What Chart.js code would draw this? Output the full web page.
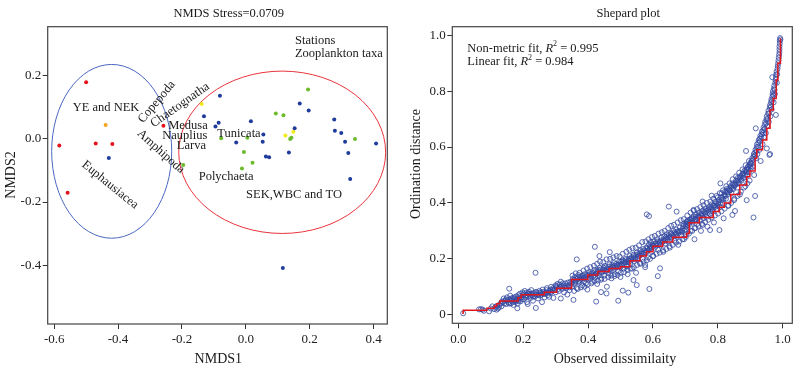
<!DOCTYPE html>
<html><head><meta charset="utf-8">
<script src="https://cdn.jsdelivr.net/npm/chart.js@4.4.0/dist/chart.umd.min.js"></script>
<style>
html,body{margin:0;padding:0;background:#fff;}
#wrap{position:relative;width:807px;height:372px;overflow:hidden;background:#fff;}
#c1{position:absolute;left:0;top:0;}
#c2{position:absolute;left:400px;top:0;}
</style></head><body>
<div id="wrap"><canvas id="c1" width="400" height="372"></canvas><canvas id="c2" width="407" height="372"></canvas></div>
<script>
// ---------------- DATA: NMDS panel ----------------
const nmdsXTicks = [-0.6, -0.4, -0.2, 0.0, 0.2, 0.4];
const nmdsXTickLabels = ['-0.6', '-0.4', '-0.2', '0.0', '0.2', '0.4'];
const nmdsYTicks = [0.2, 0.0, -0.2, -0.4];
const nmdsYTickLabels = ['0.2', '0.0', '-0.2', '-0.4'];

const redStations = [[-0.500,0.178],[-0.584,-0.022],[-0.470,-0.015],[-0.418,-0.017],[-0.258,0.041],[-0.558,-0.171]];
const orangeStations = [[-0.439,0.043]];
const yellowStations = [[-0.138,0.109],[0.124,0.010],[0.149,0.022]];
const blueStations = [[-0.429,-0.061],[-0.081,0.135],[-0.131,0.071],[-0.085,0.050],[-0.095,0.038],[0.016,0.055],
  [-0.030,-0.012],[0.055,0.013],[0.053,-0.010],[0.063,-0.056],[0.073,-0.059],[0.135,-0.044],[0.153,0.033],
  [0.169,0.111],[0.197,0.089],[0.277,0.060],[0.279,0.025],[0.299,0.018],[0.311,-0.010],[0.321,-0.045],
  [0.408,-0.015],[0.327,-0.127],[0.116,-0.408]];
const greenStations = [[0.195,0.155],[0.094,0.079],[0.118,0.074],[-0.077,0.001],[0.005,0.003],[0.139,-0.001],
  [0.143,0.003],[0.342,-0.001],[-0.006,-0.042],[0.021,-0.076],[-0.012,-0.094],[-0.196,-0.083]];

// group ellipses (centre and semi-axes in NMDS units)
const groupNames = ['YE and NEK', 'SEK,WBC and TO'];
const groupEllipseCentre = [[-0.420,-0.040],[0.114,-0.043]];
const groupEllipseRadii = [[0.188,0.274],[0.324,0.256]];
const groupLabelAt = [[-0.542,0.097],[0.001,-0.176]];

const taxaNames = ['Copepoda','Chaetognatha','Medusa','Nauplius','Larva','Tunicata','Amphipoda','Polychaeta','Euphausiacea'];
const taxaLabelAt = [[-0.279,0.116],[-0.206,0.106],[-0.243,0.041],[-0.2615,0.010],[-0.216,-0.022],[-0.089,0.017],[-0.266,-0.041],[-0.1475,-0.120],[-0.425,-0.146]];
const taxaAngle = [-50, -35, 0, 0, 0, 0, 42, 0, 39];

const legendTexts = ['Stations', 'Zooplankton taxa'];

// ---------------- DATA: Shepard panel ----------------
const shepXTicks = [0.0, 0.2, 0.4, 0.6, 0.8, 1.0];
const shepXTickLabels = ['0.0', '0.2', '0.4', '0.6', '0.8', '1.0'];
const shepYTicks = [0, 0.2, 0.4, 0.6, 0.8, 1.0];
const shepYTickLabels = ['0', '0.2', '0.4', '0.6', '0.8', '1.0'];

const shepardPoints = [
 [0.015,0.005],[0.064,0.019],[0.07,0.02],[0.075,0.018],[0.079,0.014],[0.095,0.012],[0.1,0.022],[0.105,0.03],[0.11,0.02],[0.115,0.028],[0.118,0.018],[0.12,0.032],[0.125,0.026],
 [0.13,0.04],[0.133,0.03],[0.138,0.045],[0.14,0.058],[0.145,0.05],[0.148,0.038],[0.15,0.062],[0.155,0.045],[0.157,0.093],[0.158,0.055],[0.16,0.068],[0.162,0.04],[0.165,0.05],[0.168,0.06],[0.17,0.035],[0.172,0.055],[0.175,0.045],[0.178,0.065],[0.18,0.05],[0.182,0.023],[0.183,0.04],[0.185,0.07],[0.188,0.058],[0.19,0.075],[0.192,0.048],[0.195,0.062],[0.198,0.08],[0.2,0.07],
 [0.202,0.055],[0.205,0.085],[0.208,0.068],[0.21,0.078],[0.212,0.045],[0.214,0.038],[0.215,0.065],[0.218,0.082],[0.22,0.075],[0.223,0.06],[0.225,0.088],[0.228,0.07],[0.23,0.05],[0.233,0.078],[0.236,0.065],[0.238,0.150],[0.239,0.024],[0.24,0.082],[0.243,0.072],[0.246,0.058],[0.25,0.085],[0.252,0.068],[0.255,0.078],[0.258,0.045],[0.26,0.09],[0.263,0.075],[0.266,0.062],[0.27,0.08],[0.273,0.095],[0.276,0.07],[0.28,0.085],[0.28,0.064],[0.283,0.078],[0.286,0.1],[0.29,0.088],[0.293,0.06],[0.296,0.092],[0.3,0.105],[0.3,0.08],
 [0.303,0.098],[0.306,0.11],[0.31,0.085],[0.313,0.1],[0.316,0.118],[0.316,0.058],[0.32,0.092],[0.323,0.105],[0.326,0.08],[0.33,0.112],[0.333,0.095],[0.336,0.072],[0.34,0.105],[0.343,0.088],[0.346,0.118],[0.35,0.1],[0.353,0.128],[0.355,0.053],[0.356,0.11],[0.36,0.135],[0.362,0.12],[0.365,0.095],[0.365,0.198],[0.368,0.13],[0.37,0.142],[0.373,0.115],[0.376,0.125],[0.38,0.138],[0.382,0.105],[0.385,0.132],[0.388,0.12],[0.39,0.145],[0.393,0.112],[0.396,0.128],[0.398,0.09],[0.4,0.14],
 [0.403,0.152],[0.406,0.128],[0.41,0.145],[0.413,0.118],[0.416,0.138],[0.42,0.16],[0.421,0.243],[0.422,0.132],[0.425,0.148],[0.425,0.047],[0.428,0.11],[0.43,0.155],[0.433,0.14],[0.435,0.21],[0.436,0.168],[0.44,0.125],[0.44,0.081],[0.443,0.15],[0.446,0.162],[0.45,0.14],[0.452,0.175],[0.455,0.155],[0.457,0.076],[0.458,0.1],[0.46,0.165],[0.463,0.148],[0.466,0.18],[0.467,0.224],[0.47,0.158],[0.472,0.13],[0.475,0.172],[0.478,0.16],[0.48,0.185],[0.483,0.145],[0.486,0.168],[0.49,0.178],[0.493,0.155],[0.493,0.050],[0.496,0.19],[0.5,0.17],[0.5,0.135],
 [0.503,0.182],[0.506,0.195],[0.507,0.086],[0.51,0.165],[0.513,0.188],[0.516,0.2],[0.519,0.172],[0.52,0.175],[0.522,0.145],[0.524,0.079],[0.525,0.195],[0.528,0.21],[0.53,0.185],[0.533,0.2],[0.536,0.165],[0.54,0.215],[0.54,0.124],[0.542,0.192],[0.545,0.205],[0.548,0.15],[0.55,0.222],[0.55,0.106],[0.553,0.2],[0.556,0.212],[0.56,0.185],[0.562,0.23],[0.565,0.218],[0.568,0.2],[0.57,0.235],[0.573,0.222],[0.576,0.17],[0.576,0.178],[0.58,0.24],[0.581,0.359],[0.582,0.228],[0.585,0.205],[0.588,0.25],[0.588,0.353],[0.589,0.092],[0.59,0.238],[0.593,0.26],[0.596,0.225],[0.6,0.248],[0.6,0.21],
 [0.603,0.262],[0.606,0.24],[0.61,0.255],[0.613,0.27],[0.615,0.138],[0.616,0.232],[0.62,0.26],[0.622,0.166],[0.623,0.248],[0.626,0.275],[0.63,0.262],[0.632,0.225],[0.635,0.28],[0.638,0.255],[0.64,0.27],[0.643,0.288],[0.646,0.262],[0.649,0.387],[0.65,0.278],[0.652,0.24],[0.655,0.292],[0.658,0.275],[0.66,0.285],[0.663,0.3],[0.666,0.265],[0.67,0.29],[0.672,0.305],[0.673,0.369],[0.675,0.28],[0.678,0.25],[0.68,0.298],[0.683,0.312],[0.686,0.285],[0.69,0.3],[0.693,0.318],[0.694,0.325],[0.696,0.27],[0.7,0.305],[0.7,0.325],
 [0.702,0.288],[0.703,0.315],[0.704,0.333],[0.706,0.335],[0.71,0.32],[0.713,0.34],[0.716,0.3],[0.72,0.345],[0.722,0.33],[0.725,0.352],[0.725,0.375],[0.728,0.31],[0.728,0.27],[0.73,0.34],[0.733,0.358],[0.736,0.325],[0.74,0.35],[0.742,0.365],[0.745,0.338],[0.748,0.3],[0.75,0.36],[0.753,0.372],[0.753,0.321],[0.753,0.405],[0.756,0.345],[0.76,0.365],[0.762,0.38],[0.765,0.35],[0.768,0.315],[0.77,0.375],[0.773,0.385],[0.776,0.36],[0.776,0.303],[0.78,0.38],[0.781,0.426],[0.782,0.395],[0.785,0.37],[0.788,0.33],[0.79,0.39],[0.793,0.405],[0.796,0.378],[0.8,0.395],[0.8,0.42],
 [0.803,0.41],[0.805,0.303],[0.806,0.385],[0.808,0.47],[0.81,0.42],[0.812,0.435],[0.815,0.4],[0.818,0.345],[0.82,0.425],[0.822,0.44],[0.825,0.415],[0.828,0.45],[0.83,0.43],[0.833,0.39],[0.836,0.445],[0.84,0.46],[0.842,0.435],[0.845,0.47],[0.845,0.357],[0.848,0.45],[0.85,0.41],[0.853,0.465],[0.853,0.371],[0.856,0.48],[0.86,0.455],[0.862,0.49],[0.865,0.47],[0.868,0.43],[0.87,0.495],[0.873,0.48],[0.876,0.505],[0.88,0.49],[0.882,0.515],[0.885,0.46],[0.887,0.586],[0.888,0.52],[0.889,0.41],[0.89,0.5],[0.893,0.53],[0.896,0.51],[0.898,0.48],[0.9,0.54],
 [0.902,0.525],[0.905,0.55],[0.908,0.53],[0.91,0.565],[0.91,0.348],[0.912,0.5],[0.915,0.58],[0.915,0.425],[0.917,0.667],[0.918,0.56],[0.92,0.6],[0.922,0.575],[0.925,0.615],[0.928,0.59],[0.93,0.63],[0.932,0.55],[0.935,0.645],[0.938,0.61],[0.94,0.66],[0.942,0.635],[0.945,0.68],[0.948,0.65],[0.95,0.7],[0.951,0.595],[0.952,0.675],[0.955,0.72],[0.957,0.69],[0.959,0.572],[0.96,0.74],[0.961,0.575],[0.962,0.71],[0.964,0.76],[0.966,0.735],[0.968,0.78],[0.968,0.85],[0.97,0.8],[0.972,0.76],[0.974,0.82],[0.976,0.79],[0.978,0.84],[0.979,0.715],[0.98,0.86],[0.982,0.83],[0.984,0.88],[0.986,0.9],[0.988,0.92],[0.99,0.94],[0.99,0.96],[0.991,0.97],[0.992,0.99],[0.993,0.985],
 // denser core of the band
 [0.122,0.022],[0.127,0.035],[0.135,0.048],[0.142,0.04],[0.147,0.055],[0.152,0.052],[0.157,0.04],[0.163,0.058],[0.167,0.045],[0.173,0.062],[0.177,0.052],[0.181,0.058],[0.186,0.048],[0.191,0.066],[0.196,0.055],[0.201,0.075],[0.206,0.062],[0.211,0.07],[0.216,0.076],[0.221,0.068],[0.226,0.075],[0.231,0.065],[0.237,0.072],[0.242,0.078],[0.247,0.07],[0.253,0.08],[0.257,0.072],[0.262,0.082],[0.268,0.074],[0.272,0.088],[0.278,0.079],[0.284,0.09],[0.288,0.082],[0.292,0.095],[0.298,0.088],
 [0.302,0.102],[0.308,0.092],[0.312,0.108],[0.318,0.1],[0.322,0.112],[0.328,0.098],[0.332,0.105],[0.338,0.115],[0.342,0.098],[0.348,0.11],[0.352,0.118],[0.357,0.125],[0.361,0.115],[0.366,0.128],[0.371,0.12],[0.375,0.135],[0.379,0.128],[0.384,0.14],[0.387,0.13],[0.392,0.135],[0.397,0.142],[0.401,0.132],[0.405,0.145],[0.409,0.138],[0.414,0.15],[0.418,0.142],[0.423,0.155],[0.427,0.145],[0.431,0.16],[0.435,0.15],[0.439,0.162],[0.444,0.155],[0.448,0.168],[0.451,0.158],[0.456,0.17],[0.461,0.16],[0.465,0.172],[0.469,0.165],[0.474,0.178],[0.477,0.168],[0.482,0.175],[0.487,0.182],[0.491,0.172],[0.495,0.18],[0.498,0.175],
 [0.502,0.19],[0.505,0.178],[0.509,0.192],[0.512,0.182],[0.517,0.195],[0.521,0.188],[0.526,0.2],[0.529,0.192],[0.534,0.205],[0.538,0.198],[0.541,0.21],[0.546,0.2],[0.549,0.215],[0.554,0.208],[0.558,0.22],[0.561,0.212],[0.566,0.225],[0.569,0.218],[0.574,0.23],[0.578,0.222],[0.583,0.238],[0.587,0.232],[0.591,0.245],[0.595,0.24],[0.598,0.252],[0.602,0.245],[0.607,0.255],[0.611,0.248],[0.615,0.262],[0.619,0.255],[0.624,0.265],[0.628,0.258],[0.633,0.27],[0.637,0.265],[0.641,0.278],[0.645,0.272],[0.649,0.285],[0.654,0.278],[0.657,0.29],[0.662,0.282],[0.667,0.295],[0.671,0.288],[0.676,0.298],[0.679,0.292],[0.684,0.3],[0.688,0.295],[0.692,0.308],[0.697,0.3],
 [0.701,0.318],[0.705,0.325],[0.709,0.335],[0.712,0.328],[0.717,0.34],[0.721,0.335],[0.724,0.345],[0.729,0.34],[0.732,0.35],[0.737,0.345],[0.741,0.355],[0.744,0.35],[0.749,0.362],[0.752,0.355],[0.757,0.368],[0.761,0.36],[0.764,0.372],[0.769,0.365],[0.772,0.378],[0.777,0.37],[0.779,0.385],[0.784,0.378],[0.787,0.39],[0.791,0.385],[0.795,0.398],[0.798,0.39],[0.802,0.402],[0.807,0.398],[0.811,0.41],[0.814,0.418],[0.817,0.412],[0.821,0.43],[0.824,0.425],[0.827,0.44],[0.831,0.438],[0.834,0.45],[0.838,0.445],[0.841,0.455],[0.844,0.45],[0.847,0.465],[0.851,0.46],[0.855,0.472],[0.858,0.468],[0.861,0.48],[0.864,0.475],[0.867,0.49],[0.871,0.485],[0.874,0.498],[0.877,0.49],[0.879,0.505],[0.883,0.5],[0.886,0.512],[0.889,0.51],[0.891,0.525],[0.894,0.52],[0.897,0.535],[0.899,0.53],
 [0.901,0.545],[0.904,0.54],[0.906,0.56],[0.909,0.555],[0.911,0.575],[0.914,0.57],[0.916,0.59],[0.919,0.585],[0.921,0.61],[0.924,0.6],[0.926,0.625],[0.929,0.62],[0.931,0.64],[0.934,0.635],[0.936,0.655],[0.939,0.65],[0.941,0.67],[0.944,0.665],[0.946,0.69],[0.949,0.685],[0.951,0.71],[0.953,0.7],[0.956,0.73],[0.958,0.72],[0.961,0.75],[0.963,0.745],[0.965,0.77],[0.967,0.765],[0.969,0.79],[0.971,0.785],[0.973,0.81],[0.975,0.805],[0.977,0.83],[0.979,0.85],[0.981,0.87],[0.983,0.86],[0.985,0.89],[0.987,0.91],[0.989,0.93],[0.99,0.95],[0.991,0.98],
 // upper edge of the band
 [0.352,0.14],[0.362,0.148],[0.374,0.15],[0.386,0.158],[0.397,0.165],[0.407,0.17],[0.418,0.175],[0.428,0.182],[0.437,0.19],[0.447,0.188],[0.457,0.198],[0.468,0.2],[0.478,0.205],[0.488,0.21],[0.497,0.208],[0.507,0.218],[0.518,0.225],[0.527,0.232],[0.537,0.238],[0.547,0.24],[0.557,0.248],[0.567,0.26],[0.577,0.262],[0.586,0.27],[0.597,0.278],[0.606,0.282],[0.617,0.29],[0.627,0.295],[0.636,0.3],[0.647,0.31],[0.656,0.318],[0.665,0.322],[0.676,0.33],[0.686,0.338],[0.695,0.342],[0.706,0.355],[0.716,0.365],[0.726,0.372],[0.736,0.378],[0.746,0.385],[0.756,0.392],[0.766,0.4],[0.777,0.405],[0.786,0.415],[0.796,0.425],[0.806,0.435],[0.816,0.445],[0.826,0.46],[0.836,0.47],[0.846,0.485],[0.856,0.495],[0.866,0.508],[0.876,0.52],[0.886,0.535],[0.896,0.55],
 // lower edge of the band
 [0.357,0.085],[0.368,0.092],[0.378,0.098],[0.389,0.1],[0.399,0.108],[0.41,0.112],[0.42,0.12],[0.43,0.122],[0.441,0.13],[0.451,0.128],[0.462,0.135],[0.471,0.14],[0.481,0.138],[0.491,0.142],[0.501,0.15],[0.511,0.152],[0.521,0.16],[0.531,0.165],[0.541,0.17],[0.551,0.178],[0.561,0.182],[0.571,0.19],[0.581,0.195],[0.591,0.2],[0.601,0.21],[0.611,0.218],[0.621,0.222],[0.631,0.23],[0.641,0.235],[0.651,0.245],[0.661,0.25],[0.671,0.258],[0.681,0.262],[0.691,0.27],[0.701,0.278],[0.711,0.29],[0.721,0.3],[0.731,0.31],[0.741,0.318],[0.751,0.325],[0.761,0.332],[0.771,0.34],[0.781,0.348],[0.791,0.355],[0.801,0.362],[0.811,0.37],[0.821,0.38],[0.831,0.39],[0.841,0.4],[0.851,0.415],[0.861,0.425],[0.871,0.44],[0.881,0.455],[0.891,0.47]
];

// monotone (non-metric) fit steps: [dissimilarity where the step occurs, new fitted level]
const fitStepX = [0.012,0.015,0.088,0.111,0.118,0.128,0.184,0.194,0.265,0.303,0.349,0.399,0.43,0.465,0.5,0.529,0.56,0.58,0.6,0.63,0.661,0.704,0.712,0.743,0.786,0.805,0.82,0.84,0.868,0.889,0.899,0.915,0.92,0.938,0.951,0.961,0.971,0.98,0.985,0.993];
const fitStepY = [0.005,0.016,0.023,0.031,0.039,0.049,0.061,0.071,0.080,0.095,0.126,0.142,0.155,0.165,0.172,0.193,0.210,0.225,0.245,0.260,0.277,0.291,0.329,0.348,0.369,0.385,0.400,0.430,0.464,0.494,0.514,0.560,0.590,0.625,0.667,0.733,0.774,0.840,0.900,0.989];

// ---------------- rendering ----------------
const SERIF = "'Liberation Serif','Times New Roman',serif";
Chart.defaults.font.family = SERIF;
Chart.defaults.color = '#222';
const toPts = a => a.map(p => ({x: p[0], y: p[1]}));

function fixedTicks(values){ return function(scale){ scale.ticks = values.map(v => ({value: v})); }; }
function labelFrom(values, labels){ return function(v){ const i = values.findIndex(t => Math.abs(t - v) < 1e-9); return i >= 0 ? labels[i] : ''; }; }

function axisOpts(min, max, values, labels, fitSize, horizontal, pad){
  return {
    type: 'linear', min, max, position: horizontal ? 'bottom' : 'left',
    afterBuildTicks: fixedTicks(values),
    afterFit: s => { if (horizontal) s.height = fitSize; else s.width = fitSize; },
    grid: {drawOnChartArea: false, drawTicks: true, tickLength: 5, color: '#333', lineWidth: 1},
    border: {display: false},
    ticks: {font: {size: 13, family: SERIF}, color: '#222', padding: pad, callback: labelFrom(values, labels), autoSkip: false, maxRotation: 0}
  };
}

function text(ctx, s, x, y, size, align, angleDeg, style){
  ctx.save();
  ctx.translate(x, y);
  if (angleDeg) ctx.rotate(angleDeg * Math.PI / 180);
  ctx.font = (style || '') + ' ' + size + 'px ' + SERIF;
  ctx.fillStyle = '#1a1a1a';
  ctx.textAlign = align; ctx.textBaseline = 'middle';
  ctx.fillText(s, 0, 0);
  ctx.restore();
}

const leftDecor = {
  id: 'leftDecor',
  beforeDatasetsDraw(chart){
    const {ctx, scales: {x, y}} = chart;
    ctx.save();
    const cols = ['#4a67c0', '#e8343c'];
    groupEllipseCentre.forEach((c, i) => {
      const cx = x.getPixelForValue(c[0]), cy = y.getPixelForValue(c[1]);
      const rx = Math.abs(x.getPixelForValue(c[0] + groupEllipseRadii[i][0]) - cx);
      const ry = Math.abs(y.getPixelForValue(c[1] + groupEllipseRadii[i][1]) - cy);
      ctx.beginPath(); ctx.ellipse(cx, cy, rx, ry, 0, 0, Math.PI * 2);
      ctx.strokeStyle = cols[i]; ctx.lineWidth = 1; ctx.stroke();
    });
    ctx.restore();
  },
  afterDraw(chart){
    const {ctx, scales: {x, y}, chartArea: ca} = chart;
    ctx.save();
    ctx.strokeStyle = '#444'; ctx.lineWidth = 1.2;
    ctx.strokeRect(ca.left, ca.top, ca.right - ca.left, ca.bottom - ca.top);
    ctx.restore();
    groupNames.forEach((n, i) => text(ctx, n, x.getPixelForValue(groupLabelAt[i][0]), y.getPixelForValue(groupLabelAt[i][1]), 12.5, 'left'));
    taxaNames.forEach((n, i) => {
      const rot = taxaAngle[i] !== 0;
      text(ctx, n, x.getPixelForValue(taxaLabelAt[i][0]), y.getPixelForValue(taxaLabelAt[i][1]), 12.5, rot ? 'center' : 'left', taxaAngle[i]);
    });
    text(ctx, legendTexts[0], x.getPixelForValue(0.154), y.getPixelForValue(0.308), 12.5, 'left');
    text(ctx, legendTexts[1], x.getPixelForValue(0.154), y.getPixelForValue(0.267), 12.5, 'left');
    text(ctx, 'NMDS Stress=0.0709', 228.7, 13.5, 12.5, 'center');
    text(ctx, 'NMDS1', 218.3, 359, 14, 'center');
    text(ctx, 'NMDS2', 11, 175, 14, 'center', -90);
  }
};

function richLine(ctx, x, y, parts){
  ctx.save();
  ctx.textBaseline = 'middle'; ctx.textAlign = 'left'; ctx.fillStyle = '#1a1a1a';
  let cx = x;
  parts.forEach(p => {
    ctx.font = (p.italic ? 'italic ' : '') + (p.size || 12.5) + 'px ' + SERIF;
    ctx.fillText(p.t, cx, y + (p.dy || 0));
    cx += ctx.measureText(p.t).width;
  });
  ctx.restore();
}

const rightDecor = {
  id: 'rightDecor',
  afterDraw(chart){
    const {ctx, chartArea: ca} = chart;
    ctx.save();
    ctx.strokeStyle = '#444'; ctx.lineWidth = 1.2;
    ctx.strokeRect(ca.left, ca.top, ca.right - ca.left, ca.bottom - ca.top);
    ctx.restore();
    text(ctx, 'Shepard plot', 228.3, 13.5, 12.5, 'center');
    text(ctx, 'Observed dissimilaity', 215, 359.3, 14, 'center');
    text(ctx, 'Ordination distance', 16.7, 164, 14, 'center', -90);
    richLine(ctx, 67.3, 48.3, [{t: 'Non-metric fit, '}, {t: 'R', italic: true}, {t: '2', size: 8, dy: -4}, {t: ' = 0.995'}]);
    richLine(ctx, 67.3, 61.7, [{t: 'Linear fit, '}, {t: 'R', italic: true}, {t: '2', size: 8, dy: -4}, {t: ' = 0.984'}]);
  }
};

function dotSet(data, color){
  return {data: toPts(data), backgroundColor: color, borderColor: color, pointRadius: 2, pointBorderWidth: 0, showLine: false};
}

new Chart(document.getElementById('c1'), {
  type: 'scatter',
  data: {datasets: [
    dotSet(blueStations, '#1f3b9c'),
    dotSet(greenStations, '#6cbb2c'),
    dotSet(redStations, '#e5131b'),
    dotSet(orangeStations, '#f5a21e'),
    dotSet(yellowStations, '#f2ea1a')
  ]},
  options: {
    responsive: false, animation: false, devicePixelRatio: 1,
    layout: {padding: {top: 26.7, right: 12.7, left: 0, bottom: 0}},
    plugins: {legend: {display: false}, tooltip: {enabled: false}},
    scales: {
      x: axisOpts(-0.6204, 0.4432, nmdsXTicks, nmdsXTickLabels, 48, true, 2.5),
      y: axisOpts(-0.5845, 0.353, nmdsYTicks, nmdsYTickLabels, 47.7, false, 1.5)
    }
  },
  plugins: [leftDecor]
});

new Chart(document.getElementById('c2'), {
  type: 'scatter',
  data: {datasets: [
    {data: fitStepX.map((v, i) => ({x: v, y: fitStepY[i]})), showLine: true, stepped: 'before', borderColor: '#e0161e', borderWidth: 1.5, pointRadius: 0, fill: false, order: 0},
    {data: toPts(shepardPoints), pointStyle: 'circle', pointRadius: 2.5, pointBorderWidth: 0.8, borderColor: '#3247a0', backgroundColor: 'rgba(0,0,0,0)', showLine: false, order: 1}
  ]},
  options: {
    responsive: false, animation: false, devicePixelRatio: 1,
    layout: {padding: {top: 26.7, right: 14.7, left: 0, bottom: 0}},
    plugins: {legend: {display: false}, tooltip: {enabled: false}},
    scales: {
      x: axisOpts(-0.0185, 1.0296, shepXTicks, shepXTickLabels, 48.7, true, 3.2),
      y: axisOpts(-0.0308, 1.0308, shepYTicks, shepYTickLabels, 52.3, false, 1.5)
    }
  },
  plugins: [rightDecor]
});
</script>
</body></html>
